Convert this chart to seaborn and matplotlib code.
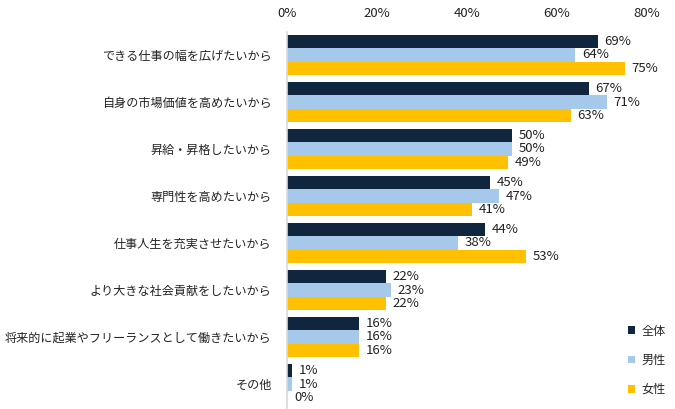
import matplotlib
matplotlib.use("Agg")
import matplotlib.pyplot as plt
import seaborn as sns
import pandas as pd
from matplotlib.patches import Patch

categories = [
    "できる仕事の幅を広げたいから",
    "自身の市場価値を高めたいから",
    "昇給・昇格したいから",
    "専門性を高めたいから",
    "仕事人生を充実させたいから",
    "より大きな社会貢献をしたいから",
    "将来的に起業やフリーランスとして働きたいから",
    "その他",
]
series = ["全体", "男性", "女性"]
vals_all = [69, 67, 50, 45, 44, 22, 16, 1]
vals_male = [64, 71, 50, 47, 38, 23, 16, 1]
vals_female = [75, 63, 49, 41, 53, 22, 16, 0]
xticks = [0, 20, 40, 60, 80]
colors = ["#10263F", "#A6C8EA", "#FFC000"]

sns.set_theme(style="white")
plt.rcParams['font.family'] = ['Noto Sans CJK JP', 'DejaVu Sans']

rows = []
for s, vals in zip(series, [vals_all, vals_male, vals_female]):
    for c, v in zip(categories, vals):
        rows.append({"cat": c, "series": s, "val": v})
df = pd.DataFrame(rows)

fig = plt.figure(figsize=(6.75, 4.09), dpi=100)
ax = fig.add_axes([287/675, 1 - 407.5/409, (647-287)/675, (407.5-31.5)/409])

sns.barplot(data=df, y="cat", x="val", hue="series", palette=colors,
            order=categories, hue_order=series, orient="h",
            width=0.85, gap=0, saturation=1, ax=ax, legend=False, errorbar=None,
            linewidth=0, edgecolor="none")

for cont, vals in zip(ax.containers, [vals_all, vals_male, vals_female]):
    ax.bar_label(cont, labels=[f"{v}%" for v in vals], padding=5,
                 fontsize=9.5, color="#222222")

ax.set_xlim(0, 80)
ax.set_ylim(7.5, -0.5)
ax.set_xticks(xticks)
ax.set_xticklabels([f"{t}%" for t in xticks], fontsize=9.5, color="#222222")
ax.xaxis.tick_top()
ax.tick_params(axis="x", length=0, pad=8)
ax.tick_params(axis="y", length=0, pad=11, labelsize=8.7, labelcolor="#222222")
ax.set_xlabel("")
ax.set_ylabel("")
for sp in ["top", "right", "bottom"]:
    ax.spines[sp].set_visible(False)
ax.spines["left"].set_color("#D9D9D9")
ax.spines["left"].set_linewidth(1.2)
ax.grid(False)

handles = [Patch(facecolor=c, edgecolor="none", label=s) for c, s in zip(colors, series)]
fig.legend(handles=handles, loc="lower left", bbox_to_anchor=(623/675, 8/409),
           frameon=False, fontsize=8.7, handlelength=0.6, handleheight=0.6,
           handletextpad=0.5, labelspacing=1.35, borderaxespad=0)

fig.savefig("out.png", dpi=100)
